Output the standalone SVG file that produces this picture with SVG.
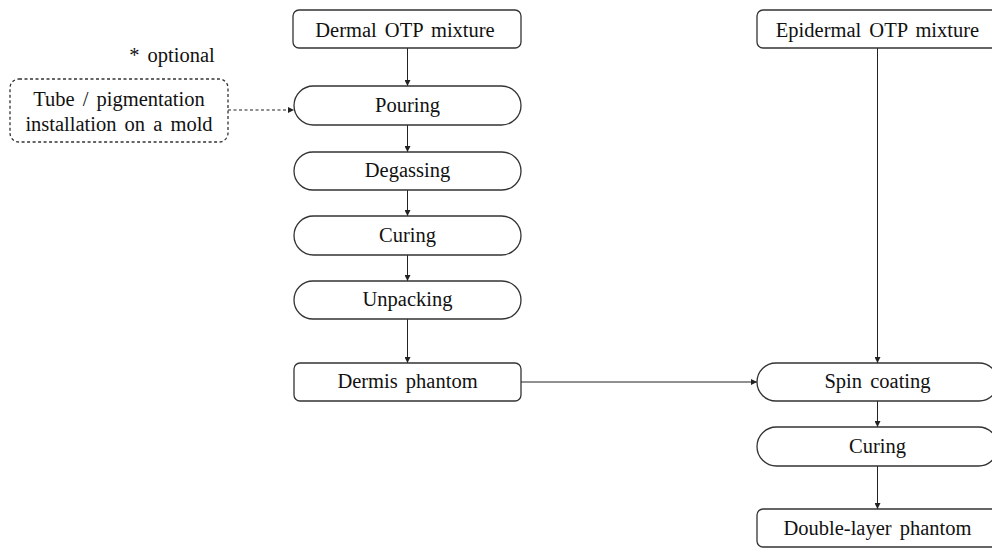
<svg xmlns="http://www.w3.org/2000/svg" width="992" height="552" viewBox="0 0 992 552">
<defs>
<marker id="ah" viewBox="0 0 10 10" refX="10" refY="5" markerWidth="6" markerHeight="6" markerUnits="userSpaceOnUse" orient="auto">
<path d="M0,0 L10,5 L0,10 z" fill="#222"/>
</marker>
<style>
.box{fill:#fff;stroke:#333;stroke-width:1.3}
.dash{fill:#fff;stroke:#333;stroke-width:1.3;stroke-dasharray:3,2.5}
.t{font-family:"Liberation Serif","Times New Roman",serif;font-size:20.5px;fill:#111;text-anchor:middle;word-spacing:3px}
.c{stroke:#222;stroke-width:1;fill:none;marker-end:url(#ah)}
.cd{stroke:#222;stroke-width:1.2;fill:none;stroke-dasharray:3,2.5;marker-end:url(#ah)}
</style>
</defs>
<rect width="992" height="552" fill="#fff"/>
<g id="connectors">
<line class="c" x1="407.5" y1="48" x2="407.5" y2="86"/>
<line class="c" x1="407.5" y1="125" x2="407.5" y2="152"/>
<line class="c" x1="407.5" y1="190" x2="407.5" y2="216"/>
<line class="c" x1="407.5" y1="255" x2="407.5" y2="281"/>
<line class="c" x1="407.5" y1="319" x2="407.5" y2="363"/>
<line class="c" x1="877.5" y1="48" x2="877.5" y2="363"/>
<line class="c" x1="877.5" y1="401" x2="877.5" y2="427"/>
<line class="c" x1="877.5" y1="466" x2="877.5" y2="509"/>
<line class="c" x1="521" y1="382" x2="757" y2="382"/>
<line class="cd" x1="228" y1="110" x2="294" y2="110"/>
</g>
<g id="optional-note"><text class="t" x="172" y="62">* optional</text></g>
<g id="tube">
<rect class="dash" x="10" y="79" width="218" height="63" rx="9"/>
<text class="t" x="119" y="106">Tube / pigmentation</text>
<text class="t" x="119" y="131">installation on a mold</text>
</g>
<g id="dermal">
<rect class="box" x="293" y="10" width="228" height="38" rx="6"/>
<text class="t" x="405" y="37">Dermal OTP mixture</text>
</g>
<g id="pouring">
<rect class="box" x="294" y="86" width="227" height="39" rx="19.5"/>
<text class="t" x="407.5" y="112">Pouring</text>
</g>
<g id="degassing">
<rect class="box" x="294" y="152" width="227" height="38" rx="19"/>
<text class="t" x="407.5" y="177">Degassing</text>
</g>
<g id="curing1">
<rect class="box" x="294" y="216" width="227" height="39" rx="19.5"/>
<text class="t" x="407.5" y="242">Curing</text>
</g>
<g id="unpacking">
<rect class="box" x="294" y="281" width="227" height="38" rx="19"/>
<text class="t" x="407.5" y="306">Unpacking</text>
</g>
<g id="dermis">
<rect class="box" x="294" y="363" width="227" height="38" rx="6"/>
<text class="t" x="407.5" y="388">Dermis phantom</text>
</g>
<g id="epidermal">
<rect class="box" x="757" y="10" width="241" height="38" rx="6"/>
<text class="t" x="877.5" y="37">Epidermal OTP mixture</text>
</g>
<g id="spin">
<rect class="box" x="757" y="363" width="241" height="38" rx="19"/>
<text class="t" x="877.5" y="388">Spin coating</text>
</g>
<g id="curing2">
<rect class="box" x="757" y="427" width="241" height="39" rx="19.5"/>
<text class="t" x="877.5" y="453">Curing</text>
</g>
<g id="double">
<rect class="box" x="757" y="509" width="241" height="38" rx="6"/>
<text class="t" x="877.5" y="535">Double-layer phantom</text>
</g>
</svg>
